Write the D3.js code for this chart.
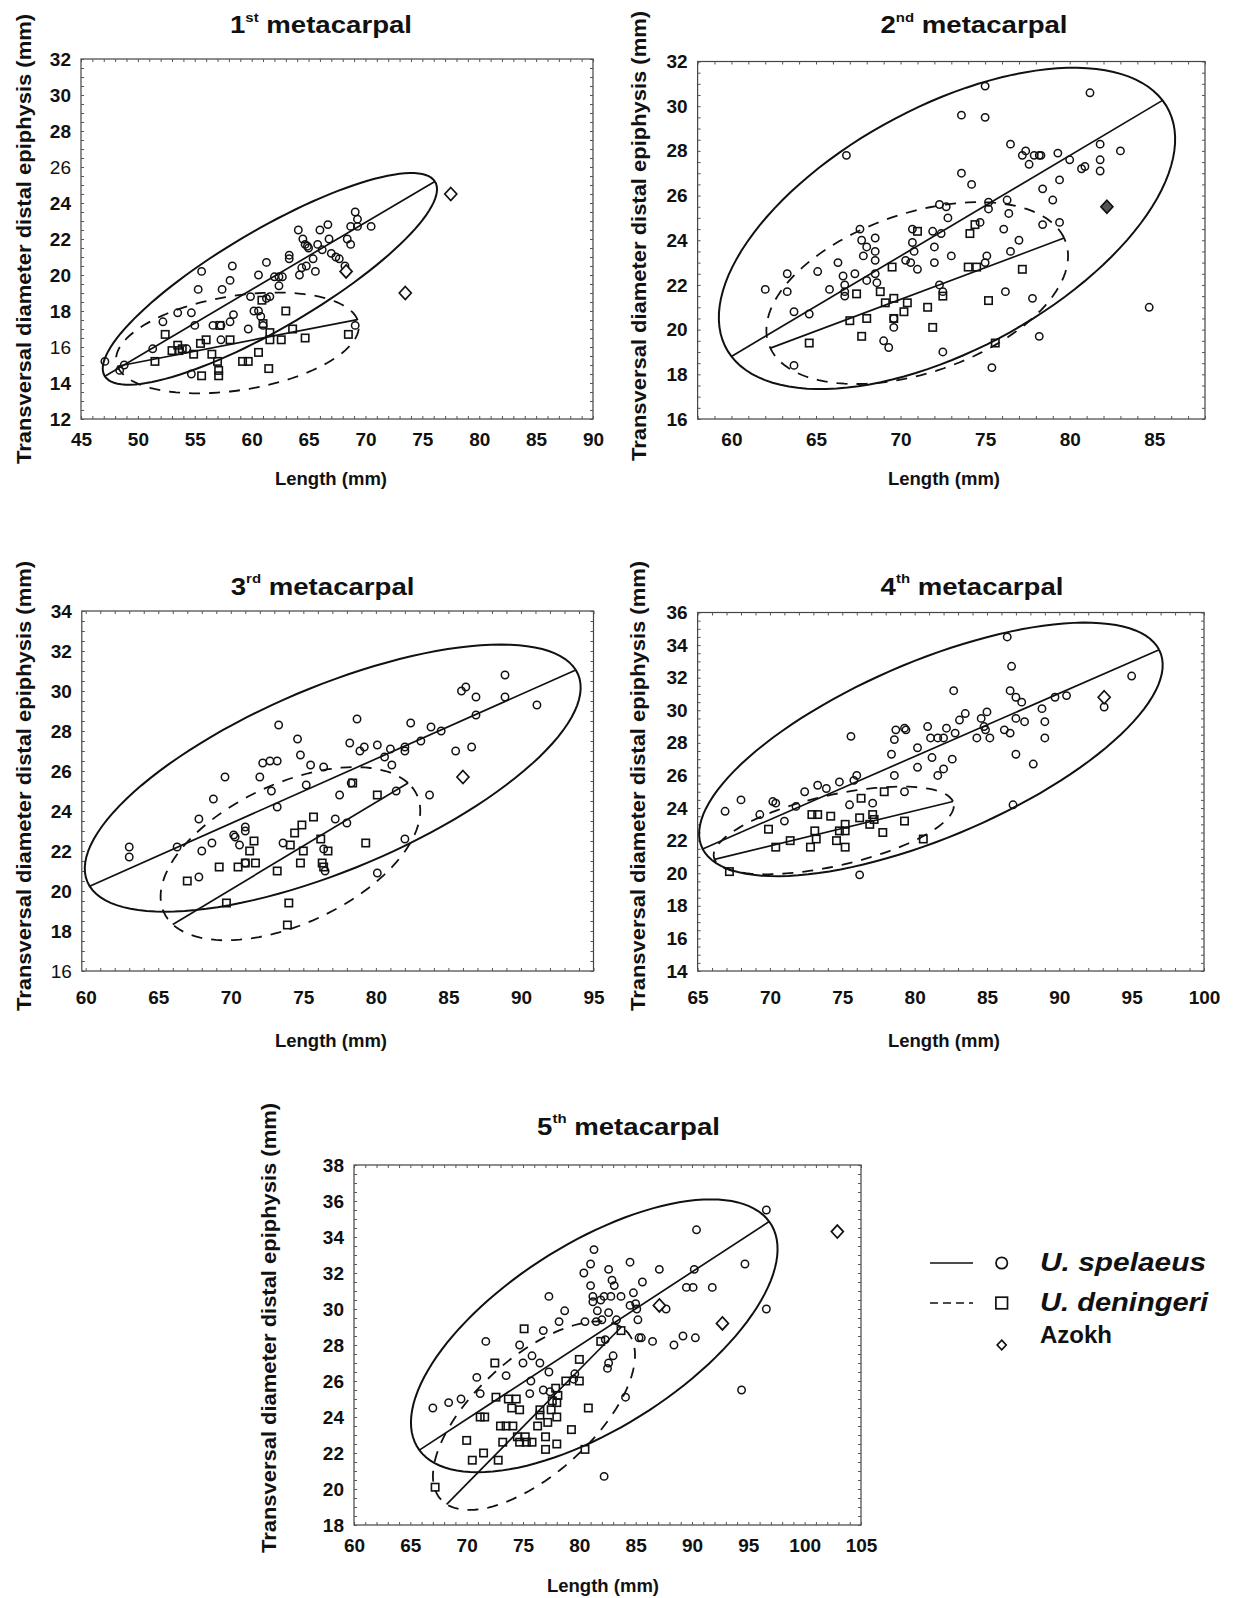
<!DOCTYPE html>
<html><head><meta charset="utf-8">
<script src="https://cdn.jsdelivr.net/npm/d3@7"></script>
<style>
body{margin:0;background:#fff}
svg{display:block}
text{font-family:"Liberation Sans",Arial,Helvetica,sans-serif;fill:#111}
</style>
</head><body>
<svg id="chart" width="1235" height="1598"></svg>
<script>
// ---------------- DATA ----------------
// 1st metacarpal
const mc1Spelaeus = [[47.1,15.2],[48.4,14.7],[48.8,15.0],[51.3,15.9],[52.2,17.4],[53.5,17.9],[54.7,17.9],[54.3,15.9],[55.0,17.2],[55.3,19.2],[55.6,20.2],[54.7,14.5],[56.6,17.2],[57.3,17.2],[57.4,19.2],[57.3,16.4],[58.1,17.4],[58.4,17.8],[58.1,19.7],[58.3,20.5],[59.7,17.0],[59.9,18.8],[60.2,18.0],[60.6,18.0],[60.6,20.0],[60.8,17.7],[61.0,17.2],[61.3,18.7],[61.6,18.8],[61.3,20.7],[62.0,19.9],[62.4,19.9],[62.4,19.4],[62.7,19.9],[63.3,21.1],[63.3,20.9],[64.1,22.5],[64.2,20.0],[64.4,20.4],[64.5,22.0],[64.7,21.7],[64.9,21.6],[64.8,20.5],[65.0,21.5],[65.4,20.9],[65.6,20.2],[65.8,21.7],[66.0,22.5],[66.2,21.4],[66.7,22.8],[66.8,22.0],[67.0,21.2],[67.4,21.0],[67.7,20.9],[68.2,20.5],[68.4,22.0],[68.7,22.7],[68.7,21.7],[69.1,23.5],[69.3,23.1],[69.3,22.7],[70.5,22.7],[69.1,17.2]];
const mc1Deningeri = [[51.5,15.2],[52.4,16.7],[53.0,15.8],[53.5,16.1],[53.6,15.8],[53.9,15.9],[54.9,15.6],[55.5,16.2],[55.6,14.4],[56.0,16.4],[56.5,15.6],[57.0,15.2],[57.1,14.7],[57.1,14.4],[57.2,17.2],[58.1,16.4],[59.2,15.2],[59.7,15.2],[60.6,15.7],[60.9,18.6],[61.0,17.3],[61.5,14.8],[61.6,16.4],[61.6,16.8],[62.6,16.4],[63.0,18.0],[63.6,17.0],[64.7,16.5],[68.5,16.7]];
const mc1Azokh = [[77.5,24.5],[73.5,19.0],[68.3,20.2]];
// fit: [x1, y1, x2, y2, half x-extent, half y-extent]
const mc1SpelaeusFit = [47.1,14.37,76.1,25.2,14.69,5.88];
const mc1DeningeriFit = [48.2,14.93,69.3,17.52,10.67,2.8];

// 2nd metacarpal
const mc2Spelaeus = [[62.0,21.8],[63.3,22.5],[63.3,21.7],[63.7,20.8],[63.7,18.4],[64.6,20.7],[65.1,22.6],[65.8,21.8],[66.3,23.0],[66.6,22.4],[66.7,22.0],[66.7,21.7],[66.7,21.5],[66.8,27.8],[67.3,22.5],[67.6,24.5],[67.7,24.0],[67.8,23.3],[68.0,23.7],[68.0,22.2],[68.5,24.1],[68.5,23.5],[68.5,23.1],[68.5,22.5],[68.6,22.1],[69.0,19.5],[69.3,19.2],[69.6,20.1],[69.6,20.5],[70.3,23.1],[70.6,23.0],[70.7,24.5],[70.7,23.9],[70.8,23.5],[71.0,22.7],[71.9,24.4],[72.0,23.7],[72.0,23.0],[72.3,25.6],[72.7,25.5],[72.8,25.0],[72.4,24.3],[72.3,22.0],[72.5,21.7],[72.5,19.0],[73.0,23.3],[73.6,29.6],[73.6,27.0],[74.2,26.5],[74.7,24.8],[75.0,30.9],[75.0,29.5],[75.1,23.3],[75.0,23.0],[75.2,25.7],[75.2,25.4],[75.4,18.3],[76.1,24.5],[76.2,21.7],[76.3,25.8],[76.4,25.2],[76.5,23.5],[76.5,28.3],[77.0,24.0],[77.2,27.8],[77.4,28.0],[77.6,27.4],[77.8,21.4],[77.9,27.8],[78.2,27.8],[78.3,27.8],[78.2,19.7],[78.4,26.3],[78.4,24.7],[79.0,25.8],[79.3,27.9],[79.4,26.7],[79.4,24.8],[80.0,27.6],[80.7,27.2],[80.9,27.3],[81.2,30.6],[81.8,28.3],[81.8,27.6],[81.8,27.1],[83.0,28.0],[84.7,21.0]];
const mc2Deningeri = [[64.6,19.4],[67.0,20.4],[67.4,21.6],[67.7,19.7],[68.0,20.5],[68.8,21.7],[69.1,21.2],[69.5,22.8],[69.6,21.4],[69.6,20.5],[70.2,20.8],[70.4,21.2],[71.0,24.4],[71.6,21.0],[71.9,20.1],[72.5,21.5],[74.0,22.8],[74.1,24.3],[74.4,24.7],[74.5,22.8],[75.2,21.3],[75.6,19.4],[77.2,22.7]];
const mc2Azokh = [[82.2,25.5]];
const mc2SpelaeusFit = [60.0,18.8,85.49,30.26,13.49,7.19];
const mc2DeningeriFit = [62.3,19.17,79.67,24.1,8.92,4.07];

// 3rd metacarpal
const mc3Spelaeus = [[63.0,22.2],[63.0,21.7],[66.3,22.2],[67.8,23.6],[67.8,20.7],[68.0,22.0],[68.7,22.4],[68.8,24.6],[69.6,25.7],[70.2,22.8],[70.3,22.7],[70.6,22.3],[71.0,23.2],[71.0,23.0],[71.0,21.4],[72.0,25.7],[72.2,26.4],[72.7,26.5],[72.8,25.0],[73.2,26.5],[73.3,28.3],[73.2,24.2],[73.6,22.4],[74.6,27.6],[74.8,26.8],[75.2,25.3],[75.5,26.3],[76.4,26.2],[76.4,22.1],[76.5,21.0],[77.2,23.6],[77.5,24.8],[78.0,23.4],[78.2,27.4],[78.3,25.4],[78.7,28.6],[78.9,27.0],[79.2,27.2],[80.1,27.3],[80.1,20.9],[80.6,26.7],[81.0,27.1],[81.1,26.3],[81.4,25.0],[82.0,27.0],[82.0,22.6],[82.0,27.2],[82.4,28.4],[83.1,27.5],[83.8,28.2],[83.7,24.8],[84.5,28.0],[85.5,27.0],[85.9,30.0],[86.2,30.2],[86.6,27.2],[86.9,29.7],[86.9,28.8],[88.9,30.8],[88.9,29.7],[91.1,29.3]];
const mc3Deningeri = [[67.0,20.5],[69.2,21.2],[70.5,21.2],[69.7,19.4],[71.0,21.4],[71.3,22.0],[71.6,22.5],[71.7,21.4],[73.2,21.0],[74.0,19.4],[73.9,18.3],[74.1,22.3],[74.4,22.9],[74.8,21.4],[74.9,23.3],[75.0,22.0],[75.7,23.7],[76.2,22.6],[76.3,21.4],[76.4,21.2],[76.7,22.0],[78.4,25.4],[79.3,22.4],[80.1,24.8]];
const mc3Azokh = [[86.0,25.7]];
const mc3SpelaeusFit = [60.27,20.24,93.78,31.05,17.09,6.68];
const mc3DeningeriFit = [66.0,18.33,82.22,25.4,8.95,4.33];

// 4th metacarpal
const mc4Spelaeus = [[66.9,23.8],[68.0,24.5],[69.3,23.6],[70.2,24.4],[70.4,24.3],[71.0,23.2],[71.8,24.1],[72.4,25.0],[73.3,25.4],[73.9,25.2],[74.8,25.6],[75.5,24.2],[75.6,28.4],[75.8,25.7],[76.0,26.0],[76.2,19.9],[77.1,24.3],[78.4,27.3],[78.6,28.2],[78.7,28.8],[78.6,26.0],[79.3,28.9],[79.4,28.8],[79.3,25.0],[80.2,27.7],[80.2,26.5],[80.9,29.0],[81.1,28.3],[81.2,27.1],[81.6,26.0],[81.6,28.3],[82.0,28.3],[82.0,26.4],[82.2,28.9],[82.6,27.0],[82.7,31.2],[82.8,28.6],[83.1,29.4],[83.5,29.8],[84.3,28.3],[84.6,29.5],[84.8,29.0],[84.9,28.8],[85.0,29.9],[85.2,28.3],[86.2,28.8],[86.4,34.5],[86.6,28.6],[86.6,31.2],[86.7,32.7],[86.8,24.2],[87.0,30.8],[87.0,29.5],[87.0,27.3],[87.4,30.5],[87.6,29.3],[88.2,26.7],[88.8,30.1],[89.0,29.3],[89.0,28.3],[89.7,30.8],[90.5,30.9],[93.1,30.2],[95.0,32.1]];
const mc4Deningeri = [[67.2,20.1],[69.9,22.7],[70.4,21.6],[71.4,22.0],[72.9,23.6],[72.8,21.6],[73.1,22.6],[73.2,22.1],[73.3,23.6],[74.2,23.5],[74.6,22.0],[74.8,22.6],[75.2,23.0],[75.2,22.6],[75.2,21.6],[76.2,23.4],[76.3,24.6],[76.9,23.0],[77.1,23.6],[77.2,23.3],[77.9,25.0],[77.8,22.5],[79.3,23.2],[80.6,22.1]];
const mc4Azokh = [[93.1,30.8]];
const mc4SpelaeusFit = [65.35,21.49,96.9,33.71,16.02,7.78];
const mc4DeningeriFit = [66.17,20.85,82.65,24.4,8.3,2.69];

// 5th metacarpal
const mc5Spelaeus = [[67.0,24.5],[68.4,24.8],[69.5,25.0],[70.9,26.2],[71.2,25.3],[71.7,28.2],[73.5,26.3],[74.7,28.0],[75.0,27.0],[75.8,27.4],[75.7,26.0],[75.6,25.3],[76.5,27.0],[76.8,28.8],[76.8,25.5],[77.3,26.5],[77.3,30.7],[77.4,25.4],[78.2,29.3],[78.7,29.9],[79.5,26.1],[79.6,26.4],[80.4,32.0],[80.5,29.3],[81.0,32.5],[81.0,31.3],[81.3,33.3],[81.2,30.7],[81.2,30.4],[81.5,29.3],[81.6,29.9],[81.9,30.5],[82.0,29.4],[82.2,30.7],[82.3,28.3],[82.2,20.7],[82.6,32.2],[82.6,29.8],[82.8,30.7],[82.9,31.6],[83.1,31.3],[82.5,26.7],[82.6,27.0],[83.0,27.4],[83.3,29.4],[83.7,30.7],[84.1,25.1],[84.5,32.6],[84.5,30.2],[84.8,30.9],[85.0,30.3],[85.1,30.0],[85.2,29.4],[85.3,28.4],[85.5,28.4],[85.6,31.5],[86.5,28.2],[87.1,32.2],[87.7,30.0],[88.4,28.0],[89.2,28.5],[89.5,31.2],[90.1,31.2],[90.2,32.2],[90.3,28.4],[90.4,34.4],[91.8,31.2],[94.4,25.5],[94.7,32.5],[96.6,35.5],[96.6,30.0]];
const mc5Deningeri = [[67.2,20.1],[70.0,22.7],[70.5,21.6],[71.5,22.0],[71.2,24.0],[71.6,24.0],[72.5,27.0],[72.6,25.1],[72.8,21.6],[73.0,23.5],[73.2,22.6],[73.5,23.5],[73.7,25.0],[74.0,24.5],[74.1,23.5],[74.4,25.0],[74.7,24.4],[74.5,22.9],[74.7,22.6],[75.1,28.9],[75.2,22.9],[75.3,22.6],[75.8,22.6],[76.3,23.5],[76.5,24.4],[76.5,24.1],[77.0,22.9],[77.0,22.2],[77.2,23.7],[77.5,24.4],[77.6,24.9],[78.0,24.8],[78.1,25.2],[78.0,24.0],[78.0,22.5],[77.9,25.6],[79.3,23.3],[78.8,26.0],[80.0,26.0],[80.0,27.2],[80.8,24.5],[80.5,22.2],[81.9,28.2],[83.7,28.8]];
const mc5Azokh = [[102.9,34.3],[87.1,30.2],[92.7,29.2]];
const mc5SpelaeusFit = [65.8,22.16,96.85,34.86,16.27,7.58];
const mc5DeningeriFit = [68.22,19.15,83.73,29.0,8.97,5.24];

// tick labels
const mc1XTicks = [45,50,55,60,65,70,75,80,85,90];
const mc1YTicks = [12,14,16,18,20,22,24,26,28,30,32];
const mc2XTicks = [60,65,70,75,80,85];
const mc2YTicks = [16,18,20,22,24,26,28,30,32];
const mc3XTicks = [60,65,70,75,80,85,90,95];
const mc3YTicks = [16,18,20,22,24,26,28,30,32,34];
const mc4XTicks = [65,70,75,80,85,90,95,100];
const mc4YTicks = [14,16,18,20,22,24,26,28,30,32,34,36];
const mc5XTicks = [60,65,70,75,80,85,90,95,100,105];
const mc5YTicks = [18,20,22,24,26,28,30,32,34,36,38];

const titles = [["1","st"],["2","nd"],["3","rd"],["4","th"],["5","th"]];
const xAxisTitle = "Length (mm)";
const yAxisTitle = "Transversal diameter distal epiphysis (mm)";
const legendLabels = ["U. spelaeus","U. deningeri","Azokh"];

// ---------------- LAYOUT ----------------
const panels = [
 {t:0, sp:mc1Spelaeus, de:mc1Deningeri, az:mc1Azokh, spFit:mc1SpelaeusFit, deFit:mc1DeningeriFit,
  xd:[45,90], yd:[12,32], xt:mc1XTicks, yt:mc1YTicks, L:81, R:593, T:59, B:419,
  title:[321,25], xl:[331,478], yl:[23.5,239], xpad:14, serif:[26,16], azFill:"#fff"},
 {t:1, sp:mc2Spelaeus, de:mc2Deningeri, az:mc2Azokh, spFit:mc2SpelaeusFit, deFit:mc2DeningeriFit,
  xd:[58,88], yd:[16,32], xt:mc2XTicks, yt:mc2YTicks, L:697.6, R:1205, T:61.5, B:419,
  title:[974,25], xl:[944,478], yl:[638.6,236], xpad:14, serif:[], azFill:"#555"},
 {t:2, sp:mc3Spelaeus, de:mc3Deningeri, az:mc3Azokh, spFit:mc3SpelaeusFit, deFit:mc3DeningeriFit,
  xd:[59.73,95], yd:[16,34], xt:mc3XTicks, yt:mc3YTicks, L:81.8, R:593.5, T:611, B:971,
  title:[322.6,586.7], xl:[331,1040], yl:[23.5,786], xpad:20, serif:[16], azFill:"#fff"},
 {t:3, sp:mc4Spelaeus, de:mc4Deningeri, az:mc4Azokh, spFit:mc4SpelaeusFit, deFit:mc4DeningeriFit,
  xd:[65,100], yd:[14,36], xt:mc4XTicks, yt:mc4YTicks, L:697.6, R:1204, T:612.5, B:971,
  title:[972,586.7], xl:[944,1040], yl:[637.5,786], xpad:20, serif:[], azFill:"#fff"},
 {t:4, sp:mc5Spelaeus, de:mc5Deningeri, az:mc5Azokh, spFit:mc5SpelaeusFit, deFit:mc5DeningeriFit,
  xd:[60,105], yd:[18,38], xt:mc5XTicks, yt:mc5YTicks, L:354, R:861, T:1165, B:1525,
  title:[628.5,1126.7], xl:[603,1585], yl:[268.5,1328], xpad:14, serif:[], azFill:"#fff"}
];

const svg = d3.select("#chart");
const INK = "#111";

function ellipsePoints(f){
  const [x1,y1,x2,y2,rx,ry] = f;
  const cx=(x1+x2)/2, cy=(y1+y2)/2, ux=(x2-x1)/2, uy=(y2-y1)/2;
  const vx=-Math.sqrt(Math.max(0,rx*rx-ux*ux)), vy=Math.sqrt(Math.max(0,ry*ry-uy*uy));
  return d3.range(0,361,3).map(a=>{const t=a*Math.PI/180;return [cx+ux*Math.cos(t)+vx*Math.sin(t), cy+uy*Math.cos(t)+vy*Math.sin(t)];});
}

function styleTicks(g){ g.select(".domain").remove(); g.selectAll("line").attr("stroke","#555").attr("stroke-width",1); }

panels.forEach(p=>{
  const x = d3.scaleLinear().domain(p.xd).range([p.L,p.R]);
  const y = d3.scaleLinear().domain(p.yd).range([p.B,p.T]);
  const g = svg.append("g");

  // frame
  g.append("rect").attr("x",p.L).attr("y",p.T).attr("width",p.R-p.L).attr("height",p.B-p.T)
    .attr("fill","none").attr("stroke","#444").attr("stroke-width",1.2);

  // inward minor ticks on all four sides
  const xMinor = d3.range(Math.ceil(p.xd[0]), p.xd[1]+1e-9, 1);
  const yMinor = d3.range(Math.ceil(p.yd[0]*2)/2, p.yd[1]+1e-9, 0.5);
  g.append("g").attr("transform",`translate(0,${p.B})`).call(d3.axisBottom(x).tickValues(xMinor).tickSize(-3).tickFormat("")).call(styleTicks);
  g.append("g").attr("transform",`translate(0,${p.T})`).call(d3.axisTop(x).tickValues(xMinor).tickSize(-3).tickFormat("")).call(styleTicks);
  g.append("g").attr("transform",`translate(${p.L},0)`).call(d3.axisLeft(y).tickValues(yMinor).tickSize(-3).tickFormat("")).call(styleTicks);
  g.append("g").attr("transform",`translate(${p.R},0)`).call(d3.axisRight(y).tickValues(yMinor).tickSize(-3).tickFormat("")).call(styleTicks);

  // tick labels
  const xa = g.append("g").attr("transform",`translate(0,${p.B})`)
    .call(d3.axisBottom(x).tickValues(p.xt).tickSize(0).tickPadding(p.xpad).tickFormat(d3.format("d")));
  xa.select(".domain").remove();
  xa.selectAll("text").attr("font-size",19).attr("font-weight","bold").attr("fill",INK)
    .attr("font-family",'"Liberation Sans",Arial,sans-serif');
  const ya = g.append("g").attr("transform",`translate(${p.L},0)`)
    .call(d3.axisLeft(y).tickValues(p.yt).tickSize(0).tickPadding(10).tickFormat(d3.format("d")));
  ya.select(".domain").remove();
  ya.selectAll("text").attr("font-size",19).attr("fill",INK)
    .attr("font-weight",d=>p.serif.includes(d)?"normal":"bold")
    .attr("font-family",d=>p.serif.includes(d)?'"Liberation Serif","Times New Roman",serif':'"Liberation Sans",Arial,sans-serif');

  // title
  const tt = g.append("text").attr("text-anchor","middle").attr("dominant-baseline","central")
    .attr("transform",`translate(${p.title[0]},${p.title[1]}) scale(1.15,1)`)
    .attr("font-size",24).attr("font-weight","bold");
  tt.append("tspan").text(titles[p.t][0]);
  tt.append("tspan").attr("font-size",13).attr("dy",-8).text(titles[p.t][1]);
  tt.append("tspan").attr("dy",8).text(" metacarpal");

  // axis titles
  g.append("text").attr("x",p.xl[0]).attr("y",p.xl[1]).attr("text-anchor","middle").attr("dominant-baseline","central")
    .attr("font-size",18.5).attr("font-weight","bold").text(xAxisTitle);
  g.append("text").attr("text-anchor","middle").attr("dominant-baseline","central")
    .attr("transform",`translate(${p.yl[0]},${p.yl[1]}) rotate(-90)`)
    .attr("font-size",20).attr("font-weight","bold")
    .attr("textLength",450).attr("lengthAdjust","spacingAndGlyphs").text(yAxisTitle);

  const line = d3.line().x(d=>x(d[0])).y(d=>y(d[1]));

  // ellipses
  g.append("path").attr("d",line(ellipsePoints(p.spFit))).attr("fill","none").attr("stroke",INK).attr("stroke-width",2);
  g.append("path").attr("d",line(ellipsePoints(p.deFit))).attr("fill","none").attr("stroke",INK).attr("stroke-width",1.8)
    .attr("stroke-dasharray","11,9");
  // regression lines
  g.append("path").attr("d",line([[p.spFit[0],p.spFit[1]],[p.spFit[2],p.spFit[3]]])).attr("stroke",INK).attr("stroke-width",1.7).attr("fill","none");
  g.append("path").attr("d",line([[p.deFit[0],p.deFit[1]],[p.deFit[2],p.deFit[3]]])).attr("stroke",INK).attr("stroke-width",1.7).attr("fill","none");

  // points
  g.append("g").selectAll("circle").data(p.sp).join("circle")
    .attr("cx",d=>x(d[0])).attr("cy",d=>y(d[1])).attr("r",3.7)
    .attr("fill","none").attr("stroke",INK).attr("stroke-width",1.5);
  g.append("g").selectAll("rect").data(p.de).join("rect")
    .attr("x",d=>x(d[0])-3.7).attr("y",d=>y(d[1])-3.7).attr("width",7.4).attr("height",7.4)
    .attr("fill","none").attr("stroke",INK).attr("stroke-width",1.6);
  g.append("g").selectAll("path").data(p.az).join("path")
    .attr("transform",d=>`translate(${x(d[0])},${y(d[1])})`)
    .attr("d","M0,-6.5L6,0L0,6.5L-6,0Z")
    .attr("fill",p.azFill).attr("stroke",INK).attr("stroke-width",1.7);
});

// ---------------- LEGEND ----------------
const lg = svg.append("g");
const rowsY = [1263,1303,1345];
lg.append("line").attr("x1",930).attr("x2",973).attr("y1",rowsY[0]).attr("y2",rowsY[0]).attr("stroke",INK).attr("stroke-width",1.7);
lg.append("line").attr("x1",930).attr("x2",973).attr("y1",rowsY[1]).attr("y2",rowsY[1]).attr("stroke",INK).attr("stroke-width",1.7).attr("stroke-dasharray","8,5");
lg.append("circle").attr("cx",1001.7).attr("cy",rowsY[0]).attr("r",5.7).attr("fill","none").attr("stroke",INK).attr("stroke-width",1.7);
lg.append("rect").attr("x",1001.7-5.8).attr("y",rowsY[1]-5.8).attr("width",11.6).attr("height",11.6).attr("fill","none").attr("stroke",INK).attr("stroke-width",1.7);
lg.append("path").attr("transform",`translate(1001.7,${rowsY[2]})`).attr("d","M0,-4.8L4.5,0L0,4.8L-4.5,0Z").attr("fill","#fff").attr("stroke",INK).attr("stroke-width",1.7);
lg.append("text").attr("x",1040).attr("y",1262).attr("dominant-baseline","central").attr("font-size",25).attr("font-weight","bold").attr("font-style","italic")
  .attr("textLength",166).attr("lengthAdjust","spacingAndGlyphs").text(legendLabels[0]);
lg.append("text").attr("x",1040).attr("y",1302).attr("dominant-baseline","central").attr("font-size",25).attr("font-weight","bold").attr("font-style","italic")
  .attr("textLength",168).attr("lengthAdjust","spacingAndGlyphs").text(legendLabels[1]);
lg.append("text").attr("x",1040).attr("y",1334).attr("dominant-baseline","central").attr("font-size",24).attr("font-weight","bold").text(legendLabels[2]);
</script>
</body></html>
